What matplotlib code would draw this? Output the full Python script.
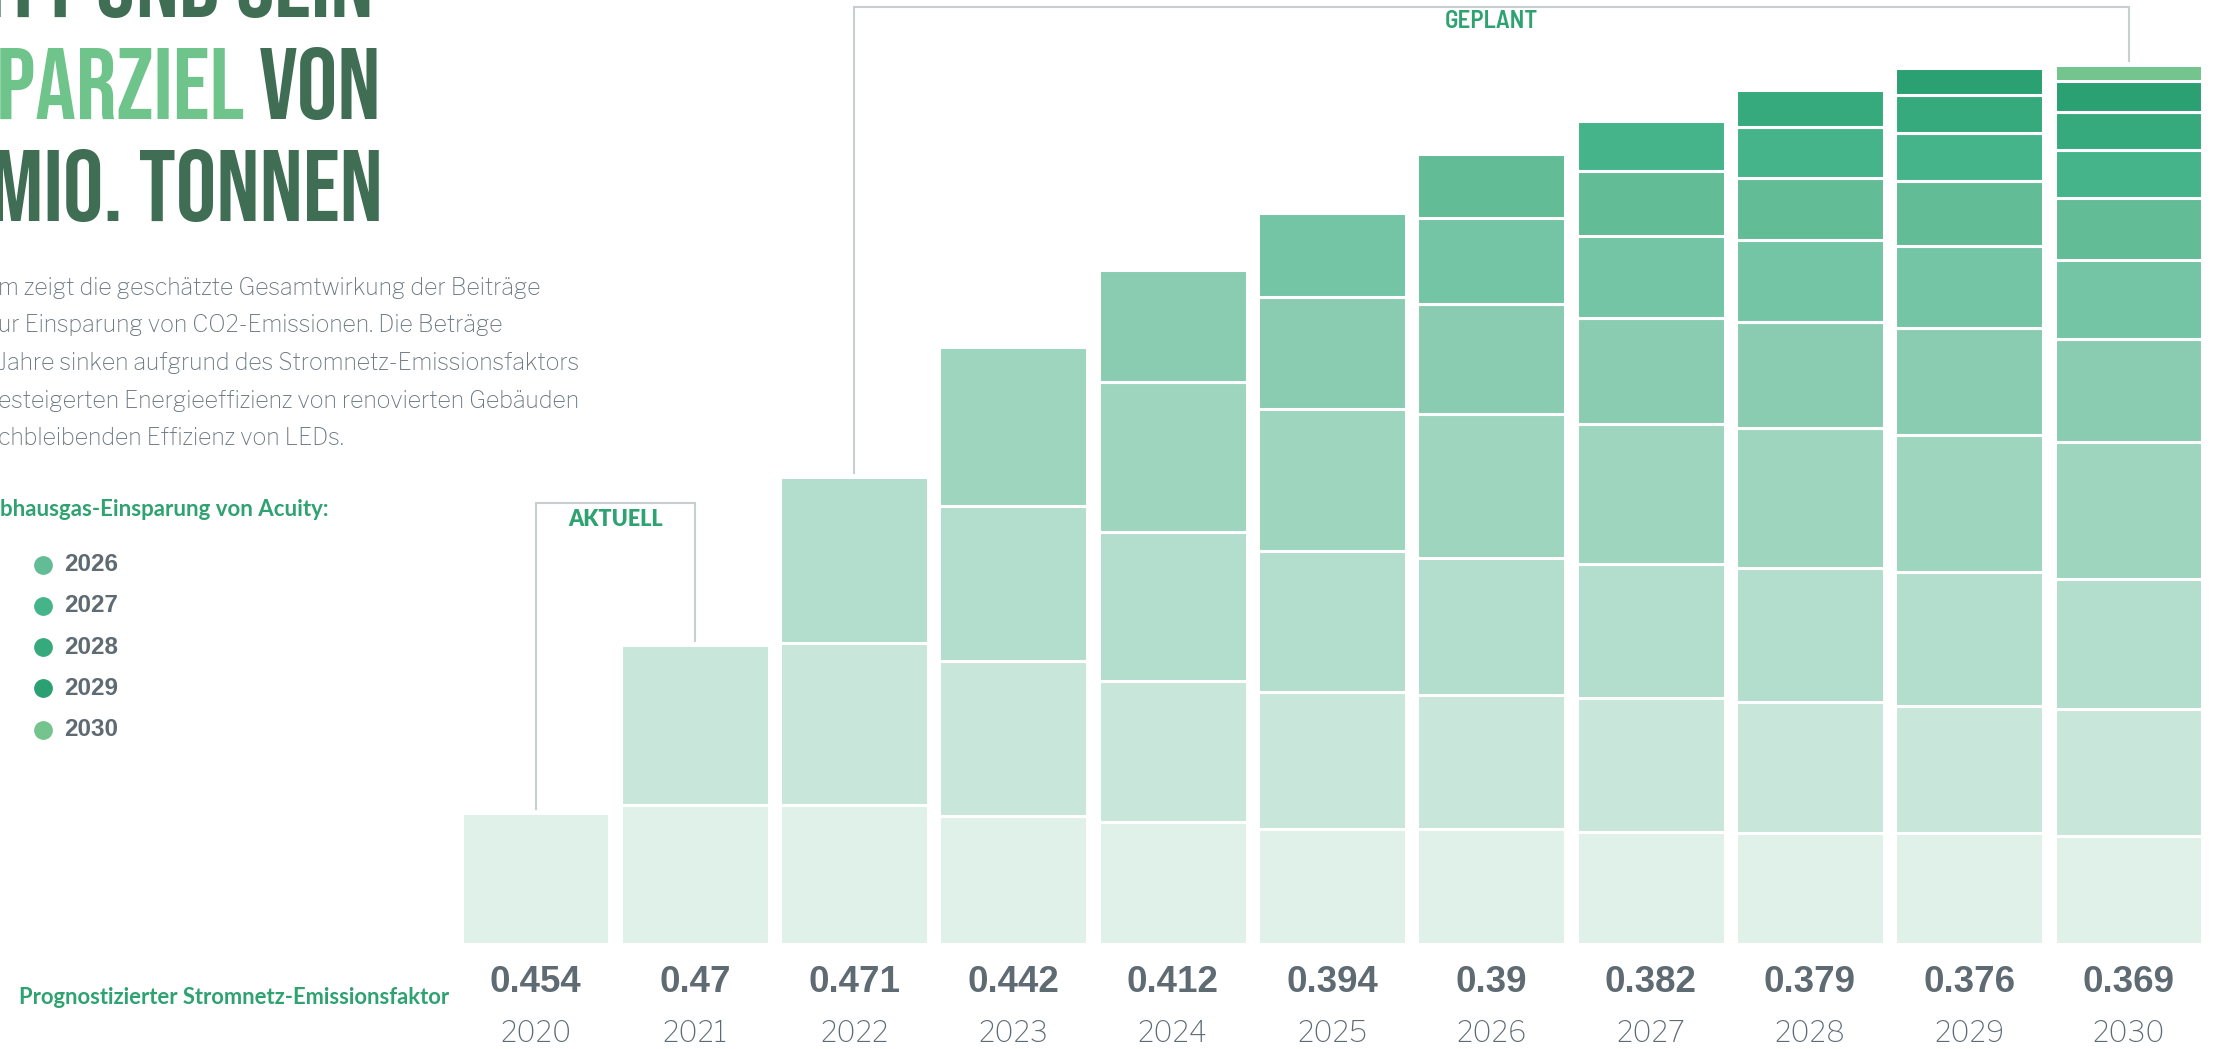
import matplotlib
matplotlib.use("Agg")
import numpy as np
import matplotlib.pyplot as plt
import warnings
import logging

logging.getLogger('matplotlib.font_manager').setLevel(logging.ERROR)
warnings.filterwarnings("ignore")

W, H = 2213, 1049

# ---- data -------------------------------------------------------------
years = [2020, 2021, 2022, 2023, 2024, 2025, 2026, 2027, 2028, 2029, 2030]
grid_factor = [0.454, 0.47, 0.471, 0.442, 0.412, 0.394, 0.39, 0.382, 0.379, 0.376, 0.369]

# savings per contribution year (kt CO2), stacked per year
c2020 = [131, 139, 139, 128, 122, 115, 115, 112, 111, 111, 108]
c2021 = [0, 160, 162, 155, 141, 137, 134, 134, 131, 127, 127]
c2022 = [0, 0, 166, 155, 149, 141, 137, 134, 134, 134, 130]
c2023 = [0, 0, 0, 159, 150, 142, 144, 140, 140, 137, 137]
c2024 = [0, 0, 0, 0, 112, 112, 110, 106, 106, 107, 103]
c2025 = [0, 0, 0, 0, 0, 84, 86, 82, 82, 82, 79]
c2026 = [0, 0, 0, 0, 0, 0, 64, 65, 62, 65, 62]
c2027 = [0, 0, 0, 0, 0, 0, 0, 50, 51, 48, 48]
c2028 = [0, 0, 0, 0, 0, 0, 0, 0, 37, 38, 38]
c2029 = [0, 0, 0, 0, 0, 0, 0, 0, 0, 27, 31]
c2030 = [0, 0, 0, 0, 0, 0, 0, 0, 0, 0, 16]

cohorts = [c2020, c2021, c2022, c2023, c2024, c2025, c2026, c2027, c2028, c2029, c2030]
colors = ['#e0f1ea', '#c9e6da', '#b3ddcc', '#9dd5bf', '#8accb1', '#73c5a5',
          '#62bd97', '#45b48a', '#36aa7d', '#2ba072', '#73c48d']
legend_years = [2026, 2027, 2028, 2029, 2030]

# ---- styling ----------------------------------------------------------
DARK = '#3f6e55'
LIGHT = '#6fc48c'
GREEN = '#2fa271'
GRAY = '#5f6b73'
BODY = '#6b7781'
LINE = '#c9ced1'

TITLE_FONT = ['Bebas Neue', 'Barlow Condensed', 'DejaVu Sans']
COND_FONT = ['Barlow Semi Condensed', 'Barlow Condensed', 'DejaVu Sans']
BODY_FONT = ['Libre Franklin', 'Lato', 'DejaVu Sans']
BOLD_FONT = ['Lato', 'Liberation Sans', 'DejaVu Sans']
NUM_FONT = ['Liberation Sans', 'DejaVu Sans']


def fx(px):
    return px / W


def fy(py):
    return 1 - py / H


fig = plt.figure(figsize=(W / 100, H / 100), dpi=100)
ax = fig.add_axes([0, 0, 1, 1])
pitch = 159.3
ax.set_xlim(-535.5 / pitch, (W - 535.5) / pitch)
ax.set_ylim(-105, 944)
ax.axis('off')

x = np.arange(len(years))
bottom = np.zeros(len(years))
for vals, col in zip(cohorts, colors):
    vals = np.array(vals, dtype=float)
    m = vals > 0
    ax.bar(x[m], vals[m], bottom=bottom[m], width=0.929, color=col,
           edgecolor='white', linewidth=2.2)
    bottom += vals
totals = bottom

# brackets
pad = 4
ax.plot([0, 0, 1, 1], [totals[0] + pad, 441, 441, totals[1] + pad],
        color=LINE, lw=1.5, solid_joinstyle='miter')
ax.plot([2, 2, 10, 10], [totals[2] + pad, 937, 937, totals[10] + pad],
        color=LINE, lw=1.5, solid_joinstyle='miter')
ax.text(0.5, 424, 'AKTUELL', ha='center', va='center', color=GREEN,
        fontsize=15.5, fontweight='heavy', family=BOLD_FONT)
ax.text(6, 922, 'GEPLANT', ha='center', va='center', color=GREEN,
        fontsize=18, fontweight='semibold', family=COND_FONT)

# value and year labels under bars
xt = ax.get_xaxis_transform()
for i, (yr, gf) in enumerate(zip(years, grid_factor)):
    ax.text(i, fy(982), f"{gf:g}", transform=xt, ha='center', va='center',
            color=GRAY, fontsize=26.5, fontweight='bold', family=NUM_FONT)
    ax.text(i, fy(1034), str(yr), transform=xt, ha='center', va='center',
            color=GRAY, fontsize=20.5, fontweight='normal', family=BODY_FONT)

fig.text(fx(19), fy(997), 'Prognostizierter Stromnetz-Emissionsfaktor', ha='left',
         va='center', color=GREEN, fontsize=15.8, fontweight='bold', family=BOLD_FONT)

# title (cut on the left like the reference)
tsize = 73
fig.text(fx(373), fy(17), 'FORTSCHRITT UND SEIN', ha='right', va='baseline', color=DARK,
         fontsize=tsize, fontweight='bold', family=TITLE_FONT)
fig.text(fx(381), fy(119), 'VON', ha='right', va='baseline', color=DARK,
         fontsize=tsize, fontweight='bold', family=TITLE_FONT)
fig.text(fx(245), fy(119), 'EINSPARZIEL', ha='right', va='baseline', color=LIGHT,
         fontsize=tsize, fontweight='bold', family=TITLE_FONT)
fig.text(fx(383), fy(221), 'MIO. TONNEN', ha='right', va='baseline', color=DARK,
         fontsize=tsize, fontweight='bold', family=TITLE_FONT)

# description
body = ['m zeigt die geschätzte Gesamtwirkung der Beiträge',
        'ur Einsparung von CO2-Emissionen. Die Beträge',
        'Jahre sinken aufgrund des Stromnetz-Emissionsfaktors',
        'esteigerten Energieeffizienz von renovierten Gebäuden',
        'chbleibenden Effizienz von LEDs.']
for k, line in enumerate(body):
    fig.text(fx(-2), fy(295 + 37.5 * k), line, ha='left', va='baseline', color=BODY,
             fontsize=16.6, fontweight='light', family=BODY_FONT)

# legend
fig.text(fx(0), fy(516), 'bhausgas-Einsparung von Acuity:', ha='left', va='baseline',
         color=GREEN, fontsize=16, fontweight='bold', family=BOLD_FONT)
for k, yr in enumerate(legend_years):
    yy = fy(564.5 + 41.3 * k)
    fig.add_artist(plt.Line2D([fx(43)], [yy], marker='o', markersize=12.5,
                              color=colors[years.index(yr)], transform=fig.transFigure))
    fig.text(fx(64), yy, str(yr), ha='left', va='center', color=GRAY,
             fontsize=17.5, fontweight='bold', family=NUM_FONT)

fig.savefig('out.png', dpi=100)
